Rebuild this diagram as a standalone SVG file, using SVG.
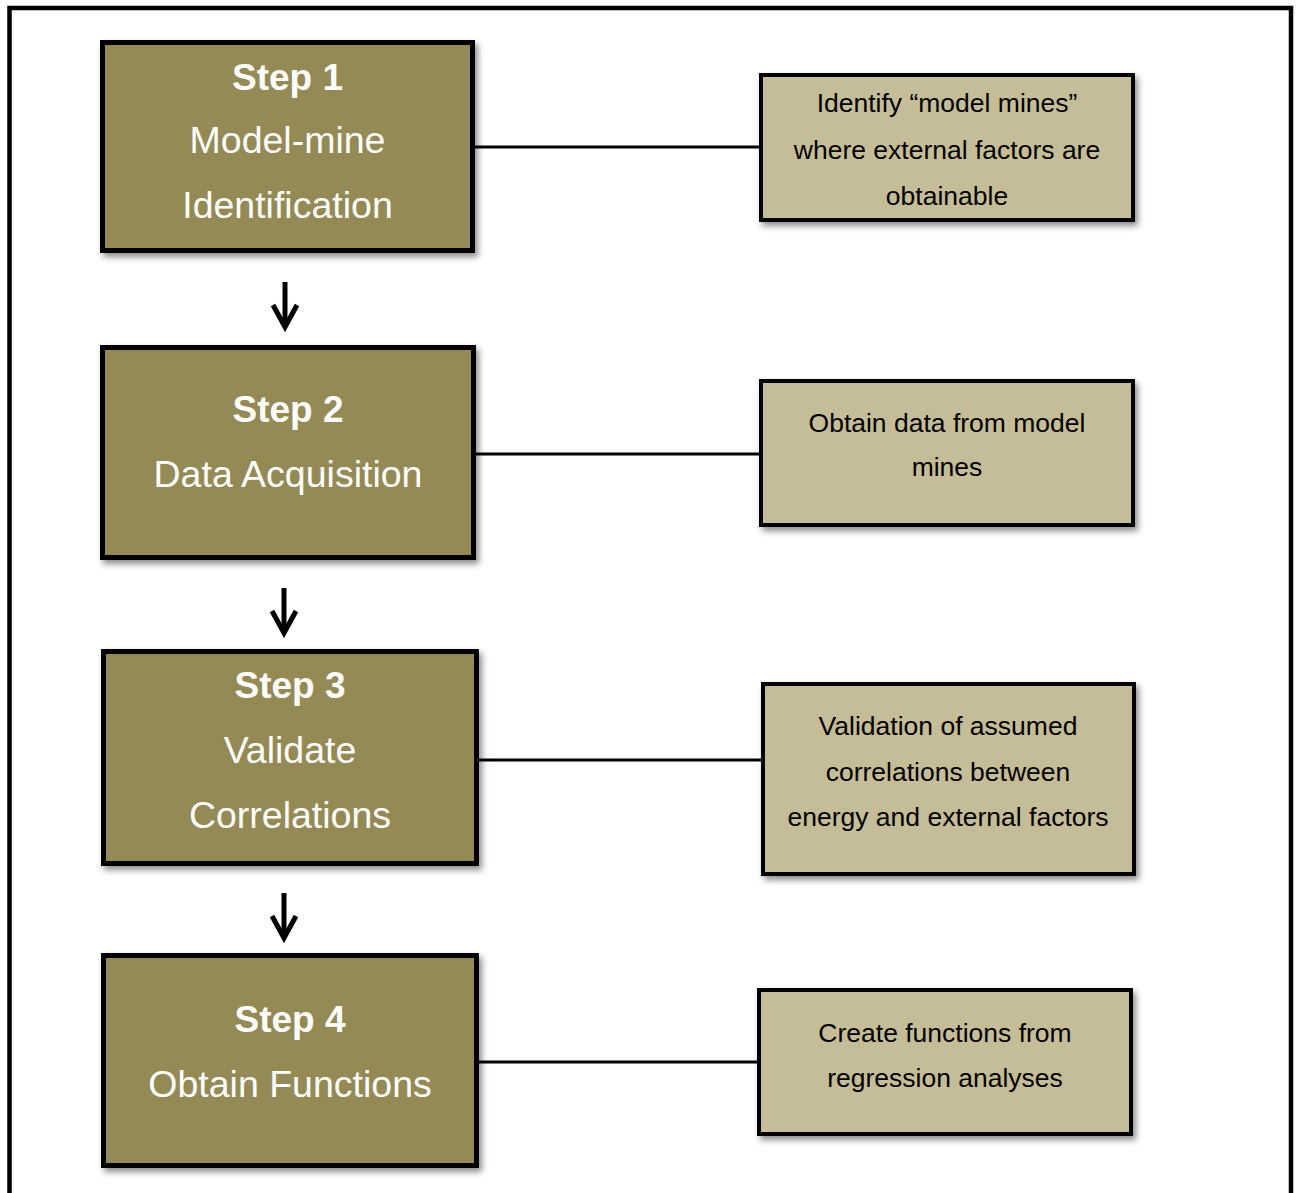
<svg xmlns="http://www.w3.org/2000/svg" width="1299" height="1193" viewBox="0 0 1299 1193">
  <style>
    .step { fill: #948A54; stroke: #000; stroke-width: 5; filter: url(#shadow); }
    .note { fill: #C4BD97; stroke: #000; stroke-width: 4; filter: url(#shadow); }
    .title { font-family: "Liberation Sans", Arial, sans-serif; font-size: 37px; font-weight: bold; fill: #fff; text-anchor: middle; }
    .sub { font-family: "Liberation Sans", Arial, sans-serif; font-size: 37.5px; fill: #fff; text-anchor: middle; }
    .desc { font-family: "Liberation Sans", Arial, sans-serif; font-size: 26.5px; fill: #000; text-anchor: middle; }
    .link { stroke: #000; stroke-width: 3; fill: none; }
    .arrow { stroke: #000; stroke-width: 5; fill: none; stroke-linecap: butt; stroke-linejoin: miter; }
  </style>
  <defs>
    <filter id="shadow" x="-10%" y="-10%" width="125%" height="130%">
      <feDropShadow dx="3" dy="4" stdDeviation="3" flood-color="#000" flood-opacity="0.45"/>
    </filter>
  </defs>

  <rect width="1299" height="1193" fill="#fff"/>
  <!-- outer frame -->
  <rect x="9.5" y="8" width="1281.5" height="1200" fill="none" stroke="#000" stroke-width="4.5"/>

  <!-- connectors -->
  <g id="connectors">
    <line class="link" x1="475" y1="147" x2="760" y2="147"/>
    <line class="link" x1="476" y1="454" x2="760" y2="454"/>
    <line class="link" x1="479" y1="760" x2="762" y2="760"/>
    <line class="link" x1="479" y1="1062" x2="758" y2="1062"/>
    <g class="arrow">
      <line x1="285" y1="282" x2="285" y2="327"/>
      <polyline points="273,305 285,327 297,305"/>
      <line x1="284" y1="588" x2="284" y2="633"/>
      <polyline points="272,611 284,633 296,611"/>
      <line x1="284" y1="893" x2="284" y2="938"/>
      <polyline points="272,916 284,938 296,916"/>
    </g>
  </g>

  <g id="step1">
    <rect class="step" x="102.5" y="42.5" width="370" height="208"/>
    <text class="title" x="287.5" y="90">Step 1</text>
    <text class="sub" x="287.5" y="153">Model-mine</text>
    <text class="sub" x="287.5" y="218">Identification</text>
  </g>
  <g id="note1">
    <rect class="note" x="761" y="75" width="372" height="145"/>
    <text class="desc" x="947" y="112">Identify “model mines”</text>
    <text class="desc" x="947" y="159">where external factors are</text>
    <text class="desc" x="947" y="205">obtainable</text>
  </g>

  <g id="step2">
    <rect class="step" x="102.5" y="347.5" width="371" height="210"/>
    <text class="title" x="288" y="422">Step 2</text>
    <text class="sub" x="288" y="487">Data Acquisition</text>
  </g>
  <g id="note2">
    <rect class="note" x="761" y="381" width="372" height="144"/>
    <text class="desc" x="947" y="432">Obtain data from model</text>
    <text class="desc" x="947" y="476">mines</text>
  </g>

  <g id="step3">
    <rect class="step" x="103.5" y="651.5" width="373" height="212"/>
    <text class="title" x="290" y="698">Step 3</text>
    <text class="sub" x="290" y="763">Validate</text>
    <text class="sub" x="290" y="828">Correlations</text>
  </g>
  <g id="note3">
    <rect class="note" x="763" y="684" width="371" height="190"/>
    <text class="desc" x="948" y="735">Validation of assumed</text>
    <text class="desc" x="948" y="781">correlations between</text>
    <text class="desc" x="948" y="826">energy and external factors</text>
  </g>

  <g id="step4">
    <rect class="step" x="103.5" y="955.5" width="373" height="210"/>
    <text class="title" x="290" y="1032">Step 4</text>
    <text class="sub" x="290" y="1097">Obtain Functions</text>
  </g>
  <g id="note4">
    <rect class="note" x="759" y="990" width="372" height="144"/>
    <text class="desc" x="945" y="1042">Create functions from</text>
    <text class="desc" x="945" y="1087">regression analyses</text>
  </g>
</svg>
